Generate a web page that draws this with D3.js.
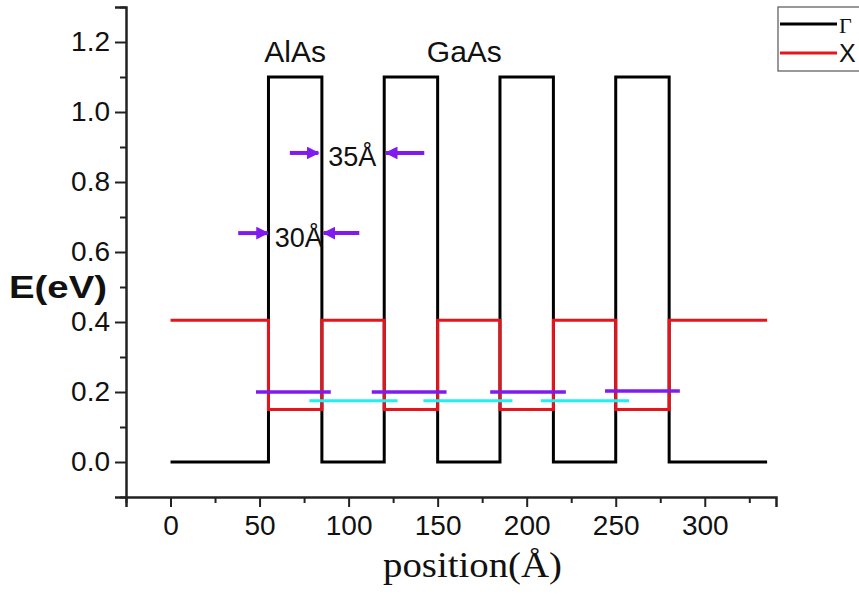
<!DOCTYPE html>
<html>
<head>
<meta charset="utf-8">
<script src="https://cdn.jsdelivr.net/npm/d3@7"></script>
<style>
body { margin:0; background:#fff; }
</style>
</head>
<body>
<div id="figure"></div>
<script>
// band edges (Å) and levels (eV)
var edges = [0, 55, 85, 120, 150, 185, 215, 250, 280, 335];
var gammaLevels = [0, 1.1, 0, 1.1, 0, 1.1, 0, 1.1, 0];
var xLevels = [0.405, 0.15, 0.405, 0.15, 0.405, 0.15, 0.405, 0.15, 0.405];

// bound states
var purpleStates = [[48, 90, 0.2], [113, 155, 0.2], [179.5, 222, 0.2], [244, 286, 0.203]];
var cyanStates = [[78, 127.5, 0.175], [142, 192, 0.175], [208, 257.5, 0.175]];

// width arrows: [from, to, y]
var arrows = [[67, 83, 0.883], [142.5, 121, 0.883], [38, 54.6, 0.654], [106, 86, 0.654]];
var notes = [["35Å", 102, 0.847], ["30Å", 72, 0.613]];
var layerLabels = [["AlAs", 70, 1.143], ["GaAs", 165, 1.143]];

var xTicks = [0, 50, 100, 150, 200, 250, 300];
var yTicks = [0.0, 0.2, 0.4, 0.6, 0.8, 1.0, 1.2];

var W = 859, H = 598;
var x = d3.scaleLinear().domain([-25, 340]).range([126, 776]);
var y = d3.scaleLinear().domain([-0.1, 1.3]).range([497, 7]);

var svg = d3.select("#figure").append("svg").attr("width", W).attr("height", H)
	.style("font-family", "Arial, 'Liberation Sans', sans-serif");

function steps(levels) {
	var pts = [];
	for (var i = 0; i < levels.length; i++) {
		pts.push([edges[i], levels[i]]);
		pts.push([edges[i+1], levels[i]]);
	}
	return pts;
}
var line = d3.line().x(function(d) { return x(d[0]); }).y(function(d) { return y(d[1]); });

svg.append("path").attr("d", line(steps(gammaLevels)))
	.attr("fill", "none").attr("stroke", "#000").attr("stroke-width", 3);
svg.append("path").attr("d", line(steps(xLevels)))
	.attr("fill", "none").attr("stroke", "#e8141b").attr("stroke-width", 3);

svg.selectAll("line.purple").data(purpleStates).enter().append("line")
	.attr("class", "purple")
	.attr("x1", function(d) { return x(d[0]); })
	.attr("x2", function(d) { return x(d[1]); })
	.attr("y1", function(d) { return y(d[2]); })
	.attr("y2", function(d) { return y(d[2]); })
	.attr("stroke", "#7f1bef").attr("stroke-width", 3.5);

svg.selectAll("line.cyan").data(cyanStates).enter().append("line")
	.attr("class", "cyan")
	.attr("x1", function(d) { return x(d[0]); })
	.attr("x2", function(d) { return x(d[1]); })
	.attr("y1", function(d) { return y(d[2]); })
	.attr("y2", function(d) { return y(d[2]); })
	.attr("stroke", "#1ef0f4").attr("stroke-width", 3);

// arrows
var defs = svg.append("defs");
defs.append("marker").attr("id", "head")
	.attr("viewBox", "0 0 10 10").attr("refX", 9).attr("refY", 5)
	.attr("markerWidth", 3.2).attr("markerHeight", 3.2).attr("orient", "auto")
	.append("path").attr("d", "M0,0 L10,5 L0,10 Z").attr("fill", "#7f1bef");

svg.selectAll("line.arrow").data(arrows).enter().append("line")
	.attr("class", "arrow")
	.attr("x1", function(d) { return x(d[0]); })
	.attr("x2", function(d) { return x(d[1]); })
	.attr("y1", function(d) { return y(d[2]); })
	.attr("y2", function(d) { return y(d[2]); })
	.attr("stroke", "#7f1bef").attr("stroke-width", 4)
	.attr("marker-end", "url(#head)");

svg.selectAll("text.note").data(notes).enter().append("text")
	.attr("class", "note")
	.attr("x", function(d) { return x(d[1]); })
	.attr("y", function(d) { return y(d[2]); })
	.attr("text-anchor", "middle")
	.attr("font-size", 27).attr("fill", "#111")
	.text(function(d) { return d[0]; });

svg.selectAll("text.layer").data(layerLabels).enter().append("text")
	.attr("class", "layer")
	.attr("x", function(d) { return x(d[1]); })
	.attr("y", function(d) { return y(d[2]); })
	.attr("text-anchor", "middle")
	.attr("font-size", 30).attr("fill", "#111")
	.text(function(d) { return d[0]; });

// axes
svg.append("g").attr("transform", "translate(0," + y(-0.1) + ")")
	.call(d3.axisBottom(x).tickValues(xTicks).tickSize(10).tickPadding(8).tickFormat(d3.format("d")));
svg.append("g").attr("transform", "translate(0," + y(-0.1) + ")")
	.call(d3.axisBottom(x).tickValues([-25, 25, 75, 125, 175, 225, 275, 325]).tickSize(6).tickFormat(""))
	.select(".domain").remove();

svg.append("g").attr("transform", "translate(" + x(-25) + ",0)")
	.call(d3.axisLeft(y).tickValues(yTicks).tickSize(11).tickPadding(5).tickFormat(d3.format(".1f")));
svg.append("g").attr("transform", "translate(" + x(-25) + ",0)")
	.call(d3.axisLeft(y).tickValues([-0.1, 0.1, 0.3, 0.5, 0.7, 0.9, 1.1, 1.3]).tickSize(6).tickFormat(""))
	.select(".domain").remove();

svg.selectAll(".domain").attr("stroke", "#222").attr("stroke-width", 2.5);
svg.selectAll(".tick line").attr("stroke", "#222").attr("stroke-width", 2);
svg.selectAll(".tick text").attr("font-size", 28)
	.attr("font-family", "Arial, 'Liberation Sans', sans-serif").attr("fill", "#111");

svg.append("text").attr("x", 9).attr("y", 298)
	.attr("font-size", 32).attr("font-weight", "bold").attr("fill", "#111")
	.attr("textLength", 98).attr("lengthAdjust", "spacingAndGlyphs").text("E(eV)");
svg.append("text").attr("x", 383).attr("y", 577)
	.attr("font-family", "'Liberation Serif', 'Times New Roman', serif")
	.attr("font-size", 36).attr("fill", "#111")
	.attr("textLength", 179).attr("lengthAdjust", "spacingAndGlyphs").text("position(Å)");

// legend
var legend = svg.append("g");
legend.append("rect").attr("x", 778).attr("y", 7).attr("width", 100).attr("height", 64)
	.attr("fill", "#fff").attr("stroke", "#555").attr("stroke-width", 1.2);
var legItems = [["Γ", "#000", 24, "'Liberation Serif', serif", 22], ["X", "#e8141b", 53, "Arial, sans-serif", 25]];
legend.selectAll("line").data(legItems).enter().append("line")
	.attr("x1", 780).attr("x2", 837)
	.attr("y1", function(d) { return d[2]; }).attr("y2", function(d) { return d[2]; })
	.attr("stroke", function(d) { return d[1]; }).attr("stroke-width", 3);
legend.selectAll("text").data(legItems).enter().append("text")
	.attr("x", 839).attr("y", function(d) { return d[2] + 9; })
	.attr("font-size", function(d) { return d[4]; }).attr("font-family", function(d) { return d[3]; })
	.attr("fill", "#111")
	.text(function(d) { return d[0]; });
</script>
</body>
</html>
